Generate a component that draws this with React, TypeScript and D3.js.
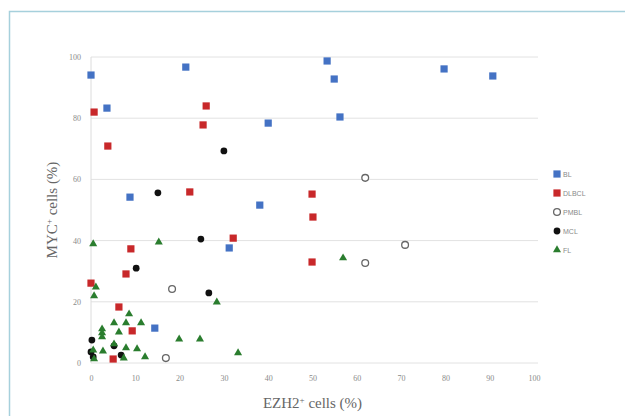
import React, { useEffect, useRef } from "react";
import * as d3 from "d3";

const xTicks = [0, 10, 20, 30, 40, 50, 60, 70, 80, 90, 100];
const yTicks = [0, 20, 40, 60, 80, 100];

const blX = [0, 21.4, 3.6, 53.3, 54.9, 40.0, 56.2, 79.7, 90.7, 8.8, 38.1, 31.2, 14.4];
const blY = [94.1, 96.7, 83.3, 98.7, 92.8, 78.4, 80.4, 96.1, 93.8, 54.2, 51.6, 37.6, 11.4];

const dlbclX = [0.7, 3.8, 26.0, 25.3, 22.3, 49.9, 50.1, 49.9, 32.1, 9.0, 7.9, 0, 6.3, 9.3, 5.0];
const dlbclY = [82.0, 70.9, 84.0, 77.8, 55.9, 55.2, 47.7, 33.0, 40.8, 37.3, 29.1, 26.1, 18.3, 10.5, 1.3];

const pmblX = [61.9, 70.9, 61.9, 18.3, 16.9];
const pmblY = [60.5, 38.6, 32.7, 24.2, 1.6];

const mclX = [30.0, 15.1, 24.8, 10.2, 26.6, 0.2, 5.2, 0.5, 6.8, 0];
const mclY = [69.3, 55.6, 40.5, 31.0, 22.9, 7.5, 5.6, 2.0, 2.6, 3.6];

const flX = [0.5, 15.3, 56.9, 1.1, 0.7, 28.4, 33.2, 19.9, 24.6, 8.6, 5.2, 7.9, 11.3, 2.5, 2.5, 2.5, 6.3, 5.2, 7.9, 0.5, 0.7, 2.7, 7.4, 10.4, 12.2];
const flY = [38.9, 39.5, 34.3, 24.8, 21.9, 19.9, 3.3, 7.8, 7.8, 16.0, 13.1, 13.1, 13.1, 11.1, 9.8, 8.5, 10.1, 6.2, 4.9, 4.2, 1.3, 3.9, 1.6, 4.6, 2.0];

const seriesNames = ["BL", "DLBCL", "PMBL", "MCL", "FL"];

const App = () => {
  const chart = useRef<SVGSVGElement>(null);

  useEffect(() => {
    const svg = d3.select(chart.current);
    svg.selectAll("*").remove();

    const x = d3.scaleLinear().domain([0, 100]).range([91, 534]);
    const y = d3.scaleLinear().domain([0, 100]).range([363, 57]);

    // frame, only left and top edges are in view
    svg.append("rect")
      .attr("x", 9.5).attr("y", 11.5)
      .attr("width", 700).attr("height", 500)
      .attr("fill", "none")
      .attr("stroke", "#a6d0dc")
      .attr("stroke-width", 1.5);

    svg.append("g")
      .selectAll("line")
      .data(yTicks)
      .join("line")
      .attr("x1", x(0)).attr("x2", x(100) + 4)
      .attr("y1", d => y(d)).attr("y2", d => y(d))
      .attr("stroke", "#e2e2e2");

    svg.append("line")
      .attr("x1", x(0)).attr("x2", x(0))
      .attr("y1", y(0)).attr("y2", y(100))
      .attr("stroke", "#dcdcdc");

    const yAxis = svg.append("g")
      .attr("transform", "translate(" + (x(0) - 6) + ",0)")
      .call(d3.axisLeft(y).tickValues(yTicks).tickSize(0).tickPadding(4));
    yAxis.select(".domain").remove();

    const xAxis = svg.append("g")
      .attr("transform", "translate(0," + (y(0) + 8) + ")")
      .call(d3.axisBottom(x).tickValues(xTicks).tickSize(0).tickPadding(4));
    xAxis.select(".domain").remove();

    svg.selectAll(".tick text")
      .attr("fill", "#8a8a8a")
      .style("font-family", "Liberation Serif, serif")
      .style("font-size", "8px");

    svg.append("text")
      .attr("x", (x(0) + x(100)) / 2)
      .attr("y", 408)
      .attr("text-anchor", "middle")
      .attr("fill", "#666666")
      .style("font-family", "Liberation Serif, serif")
      .style("font-size", "15px")
      .html("EZH2<tspan dy='-5' font-size='9px'>+</tspan><tspan dy='5'> cells (%)</tspan>");

    svg.append("text")
      .attr("transform", "translate(57," + (y(0) + y(100)) / 2 + ") rotate(-90)")
      .attr("text-anchor", "middle")
      .attr("fill", "#666666")
      .style("font-family", "Liberation Serif, serif")
      .style("font-size", "15px")
      .html("MYC<tspan dy='-5' font-size='9px'>+</tspan><tspan dy='5'> cells (%)</tspan>");

    const square = d3.symbol().type(d3.symbolSquare).size(52)();
    const circle = d3.symbol().type(d3.symbolCircle).size(36)();
    const triangle = d3.symbol().type(d3.symbolTriangle).size(28)();

    const series = [
      { xs: blX, ys: blY, path: square, fill: "#4472c4", stroke: "none" },
      { xs: dlbclX, ys: dlbclY, path: square, fill: "#c8282a", stroke: "none" },
      { xs: pmblX, ys: pmblY, path: circle, fill: "#ffffff", stroke: "#666666" },
      { xs: mclX, ys: mclY, path: circle, fill: "#111111", stroke: "none" },
      { xs: flX, ys: flY, path: triangle, fill: "#2a7d2e", stroke: "none" },
    ];

    series.forEach(s => {
      svg.append("g")
        .selectAll("path")
        .data(d3.range(s.xs.length))
        .join("path")
        .attr("d", s.path)
        .attr("transform", i => "translate(" + x(s.xs[i]) + "," + y(s.ys[i]) + ")")
        .attr("fill", s.fill)
        .attr("stroke", s.stroke)
        .attr("stroke-width", 1.3);
    });

    const legend = svg.append("g")
      .selectAll("g")
      .data(series)
      .join("g")
      .attr("transform", (d, i) => "translate(557," + (174 + i * 19) + ")");

    legend.append("path")
      .attr("d", d => d.path)
      .attr("fill", d => d.fill)
      .attr("stroke", d => d.stroke)
      .attr("stroke-width", 1.3);

    legend.append("text")
      .attr("x", 6)
      .attr("y", 3)
      .attr("fill", "#8a8a8a")
      .style("font-family", "Liberation Sans, sans-serif")
      .style("font-size", "7px")
      .text((d, i) => seriesNames[i]);
  }, []);

  return (
    <svg ref={chart} width={625} height={416}
      style={{ position: "absolute", left: 0, top: 0, background: "#fff" }} />
  );
};

export default App;
